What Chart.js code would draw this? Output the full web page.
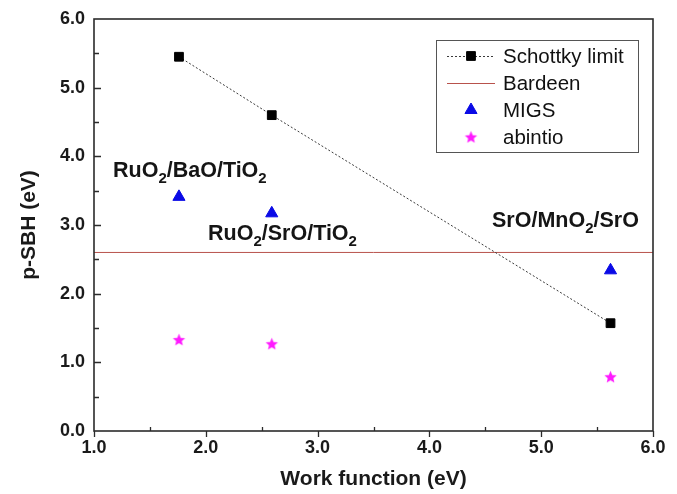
<!DOCTYPE html>
<html>
<head>
<meta charset="utf-8">
<script src="https://cdn.jsdelivr.net/npm/chart.js@4.4.1/dist/chart.umd.min.js"></script>
<style>
  html, body { margin: 0; padding: 0; background: #fff; }
  #wrap { width: 677px; height: 494px; }
</style>
</head>
<body>
<div id="wrap"><canvas id="myChart" width="677" height="494"></canvas></div>
<script>
// work function of each interface (eV)
const workFunction = [1.76, 2.59, 5.62];
const schottky = [5.45, 4.60, 1.57];
const migs = [3.41, 3.17, 2.34];
const abintio = [1.33, 1.27, 0.79];
const bardeen = 2.6;
const bardeenRange = [1.0, 6.0];
const xTicks = [1.0, 2.0, 3.0, 4.0, 5.0, 6.0];
const yTicks = [0.0, 1.0, 2.0, 3.0, 4.0, 5.0, 6.0];

// interface labels, text runs as [text, isSubscript]
const interfaceLabels = [
    { x: 1.17, y: 3.70, parts: [['RuO', false], ['2', true], ['/BaO/TiO', false], ['2', true]] },
    { x: 2.02, y: 2.78, parts: [['RuO', false], ['2', true], ['/SrO/TiO', false], ['2', true]] },
    { x: 4.56, y: 2.97, parts: [['SrO/MnO', false], ['2', true], ['/SrO', false]] }
];

const FONT = '"Liberation Sans", Arial, sans-serif';
const AXIS = '#2b2b2b';

// filled five-point star for the abintio points
function makeStar(color, r) {
    const c = document.createElement('canvas');
    const s = Math.ceil(r * 2 + 2);
    c.width = s; c.height = s;
    const g = c.getContext('2d');
    g.fillStyle = color;
    g.beginPath();
    for (let i = 0; i < 10; i++) {
        const rad = i % 2 === 0 ? r : r * 0.45;
        const a = -Math.PI / 2 + i * Math.PI / 5;
        const px = s / 2 + Math.cos(a) * rad;
        const py = s / 2 + 0.6 + Math.sin(a) * rad;
        i === 0 ? g.moveTo(px, py) : g.lineTo(px, py);
    }
    g.closePath();
    g.fill();
    return c;
}
const starImg = makeStar('#ff1aff', 6.5);

const pts = (ys) => workFunction.map((x, i) => ({ x, y: ys[i] }));

// frame with tick marks
const framePlugin = {
    id: 'frame',
    afterDatasetsDraw(chart) {
        const { ctx, chartArea: a, scales: { x, y } } = chart;
        ctx.save();
        ctx.strokeStyle = AXIS;
        ctx.lineWidth = 1.6;
        ctx.strokeRect(a.left, a.top, a.right - a.left, a.bottom - a.top);
        ctx.lineWidth = 1.3;
        ctx.beginPath();
        for (let v = 1.0; v <= 6.001; v += 0.5) {
            const px = Math.round(x.getPixelForValue(v)) + 0.5;
            const major = Math.abs(v - Math.round(v)) < 1e-6;
            if (major) { ctx.moveTo(px, a.bottom); ctx.lineTo(px, a.bottom + 6); }
            else { ctx.moveTo(px, a.bottom); ctx.lineTo(px, a.bottom - 4); }
        }
        for (let v = 0.5; v < 6; v += 0.5) {
            const py = Math.round(y.getPixelForValue(v)) + 0.5;
            const major = Math.abs(v - Math.round(v)) < 1e-6;
            ctx.moveTo(a.left, py);
            ctx.lineTo(a.left + (major ? 7 : 5), py);
        }
        ctx.stroke();
        ctx.restore();
    }
};

// interface names with subscripts
const labelPlugin = {
    id: 'interfaceLabels',
    afterDatasetsDraw(chart) {
        const { ctx, scales: { x, y } } = chart;
        ctx.save();
        ctx.fillStyle = '#151515';
        ctx.textBaseline = 'alphabetic';
        interfaceLabels.forEach(l => {
            let px = x.getPixelForValue(l.x);
            const py = y.getPixelForValue(l.y);
            l.parts.forEach(([t, sub]) => {
                ctx.font = (sub ? 'bold 15px ' : 'bold 21.5px ') + FONT;
                ctx.fillText(t, px, sub ? py + 6 : py);
                px += ctx.measureText(t).width;
            });
        });
        ctx.restore();
    }
};

// boxed legend inside the plot
const legendPlugin = {
    id: 'boxLegend',
    afterDraw(chart) {
        const { ctx } = chart;
        const box = { l: 436, t: 40, w: 202, h: 112 };
        ctx.save();
        ctx.fillStyle = '#fff';
        ctx.fillRect(box.l, box.t, box.w, box.h);
        ctx.strokeStyle = '#555';
        ctx.lineWidth = 1;
        ctx.strokeRect(box.l + 0.5, box.t + 0.5, box.w, box.h);
        ctx.font = '20.5px ' + FONT;
        ctx.textBaseline = 'middle';
        chart.data.datasets.forEach((ds, i) => {
            const cy = box.t + 16 + i * 27;
            const x0 = 447, x1 = 495, cx = 471;
            if (ds.showLine) {
                ctx.save();
                ctx.strokeStyle = ds.borderColor;
                ctx.lineWidth = ds.borderWidth;
                ctx.setLineDash(ds.borderDash || []);
                ctx.beginPath();
                ctx.moveTo(x0, cy + 0.5);
                ctx.lineTo(x1, cy + 0.5);
                ctx.stroke();
                ctx.restore();
            }
            if (ds.pointRadius > 0) {
                ctx.save();
                ctx.fillStyle = ds.backgroundColor;
                ctx.strokeStyle = ds.backgroundColor;
                ctx.setLineDash([]);
                Chart.helpers.drawPoint(ctx, {
                    pointStyle: ds.pointStyle,
                    radius: ds.pointRadius,
                    borderWidth: 1
                }, cx, cy);
                ctx.restore();
            }
            ctx.fillStyle = '#111';
            ctx.fillText(ds.label, 503, cy + 1);
        });
        ctx.restore();
    }
};

const ctx = document.getElementById('myChart').getContext('2d');
new Chart(ctx, {
    type: 'scatter',
    data: {
        datasets: [
            {
                label: 'Schottky limit',
                data: pts(schottky),
                showLine: true,
                borderColor: '#3a3a3a',
                borderWidth: 1,
                borderDash: [2, 2],
                backgroundColor: '#000',
                pointBackgroundColor: '#000',
                pointBorderColor: '#000',
                pointStyle: 'rect',
                pointRadius: 6.2
            },
            {
                label: 'Bardeen',
                data: bardeenRange.map(x => ({ x, y: bardeen })),
                showLine: true,
                borderColor: '#b8524c',
                borderWidth: 1,
                backgroundColor: '#b8524c',
                pointRadius: 0
            },
            {
                label: 'MIGS',
                data: pts(migs),
                backgroundColor: '#0a0ae6',
                pointBackgroundColor: '#0a0ae6',
                pointBorderColor: '#0a0ae6',
                pointStyle: 'triangle',
                pointRadius: 7
            },
            {
                label: 'abintio',
                data: pts(abintio),
                backgroundColor: '#ff1aff',
                pointStyle: starImg,
                pointRadius: 6
            }
        ]
    },
    options: {
        responsive: false,
        animation: false,
        layout: { padding: { top: 19, right: 24, left: 0, bottom: 0 } },
        plugins: { legend: { display: false }, tooltip: { enabled: false } },
        scales: {
            x: {
                type: 'linear',
                min: 1, max: 6,
                afterBuildTicks: s => { s.ticks = xTicks.map(v => ({ value: v })); },
                afterFit: s => { s.height = 63; },
                grid: { display: false },
                border: { display: false },
                ticks: {
                    padding: -2,
                    maxRotation: 0,
                    color: '#1a1a1a',
                    font: { family: FONT, size: 18, weight: 'bold' },
                    callback: v => v.toFixed(1)
                },
                title: {
                    display: true,
                    text: 'Work function (eV)',
                    color: '#1a1a1a',
                    font: { family: FONT, size: 21, weight: 'bold' },
                    padding: { top: 0, bottom: 2 }
                }
            },
            y: {
                type: 'linear',
                min: 0, max: 6,
                afterBuildTicks: s => { s.ticks = yTicks.map(v => ({ value: v })); },
                afterFit: s => { s.width = 94; },
                grid: { display: false },
                border: { display: false },
                ticks: {
                    padding: 1,
                    color: '#1a1a1a',
                    font: { family: FONT, size: 18, weight: 'bold' },
                    callback: v => v.toFixed(1)
                },
                title: {
                    display: true,
                    text: 'p-SBH (eV)',
                    color: '#1a1a1a',
                    font: { family: FONT, size: 21, weight: 'bold' },
                    padding: { top: 17, bottom: 0 }
                }
            }
        }
    },
    plugins: [framePlugin, labelPlugin, legendPlugin]
});
</script>
</body>
</html>
